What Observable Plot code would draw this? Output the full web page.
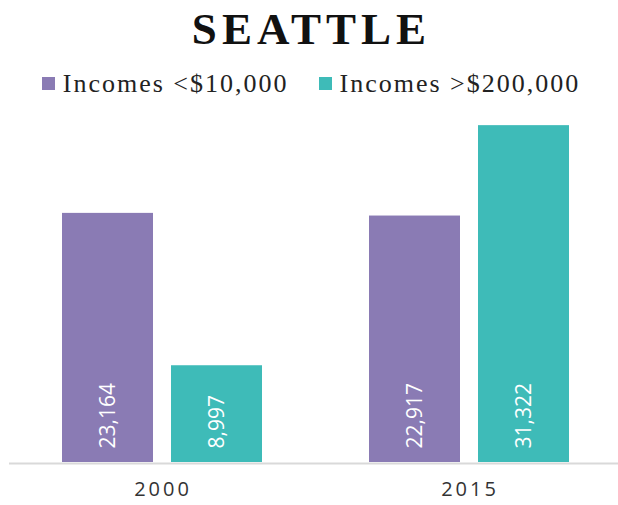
<!DOCTYPE html>
<html>
<head>
<meta charset="utf-8">
<script src="https://cdn.jsdelivr.net/npm/d3@7"></script>
<script src="https://cdn.jsdelivr.net/npm/@observablehq/plot@0.6"></script>
<style>
  html, body { margin: 0; padding: 0; background: #fff; }
  #wrap { width: 618px; height: 505px; position: relative; overflow: hidden; }
  #title { height: 58px; line-height: 58px; text-align: center; font-family: "Liberation Serif", serif; font-weight: bold; font-size: 45px; letter-spacing: 5px; color: #111; padding-left: 5px; }
  #legend { box-sizing: border-box; height: 42px; padding-top: 9px; display: flex; justify-content: center; align-items: center; gap: 30px; font-family: "Liberation Serif", serif; font-size: 26px; letter-spacing: 2px; color: #222; padding-left: 4px; }
  .item { display: flex; align-items: center; gap: 8px; }
  .sw { width: 13px; height: 13px; display: inline-block; }
  svg g[aria-label="fx-axis"] text, svg g[aria-label="fx-axis tick label"] text { letter-spacing: 3px; }
</style>
</head>
<body>
<div id="wrap">
  <div id="title"></div>
  <div id="legend"></div>
  <div id="chart"></div>
</div>
<script>
const titleText = "SEATTLE";
const years = ["2000", "2015"];
const series = ["Incomes <$10,000", "Incomes >$200,000"];
const values2000 = [23164, 8997];
const values2015 = [22917, 31322];
const colors = ["#8a7bb4", "#3ebbb8"];

const data = [];
years.forEach((yr, i) => {
  const vals = i === 0 ? values2000 : values2015;
  series.forEach((s, j) => data.push({year: yr, series: s, value: vals[j]}));
});

document.getElementById("title").textContent = titleText;
const legend = document.getElementById("legend");
series.forEach((s, j) => {
  const it = document.createElement("div");
  it.className = "item";
  const sw = document.createElement("span");
  sw.className = "sw";
  sw.style.background = colors[j];
  const tx = document.createElement("span");
  tx.textContent = s;
  it.appendChild(sw); it.appendChild(tx);
  legend.appendChild(it);
});

const fmt = d3.format(",");

const chart = Plot.plot({
  width: 618,
  height: 405,
  marginLeft: 0,
  marginRight: 0,
  marginTop: 0,
  marginBottom: 43,
  style: {fontFamily: "'Open Sans', sans-serif", fontSize: "20px", color: "#333", background: "white"},
  fx: {domain: years, range: [8, 623], padding: 0, axis: "bottom", tickSize: 0, tickPadding: 19, label: null},
  x: {domain: series, paddingInner: 0.1636, paddingOuter: 0.48, axis: null},
  y: {domain: [0, 33660], axis: null},
  color: {domain: series, range: colors},
  marks: [
    Plot.ruleY([0], {stroke: "#d9d9d9", strokeWidth: 2, dy: 1}),
    Plot.barY(data, {fx: "year", x: "series", y: "value", fill: "series"}),
    Plot.text(data, {fx: "year", x: "series", y: 0, text: d => fmt(d.value), rotate: -90, textAnchor: "start", lineAnchor: "middle", dy: -14, fill: "white", fontSize: 21, fontFamily: "'Open Sans', sans-serif"})
  ]
});
document.getElementById("chart").appendChild(chart);
</script>
</body>
</html>
